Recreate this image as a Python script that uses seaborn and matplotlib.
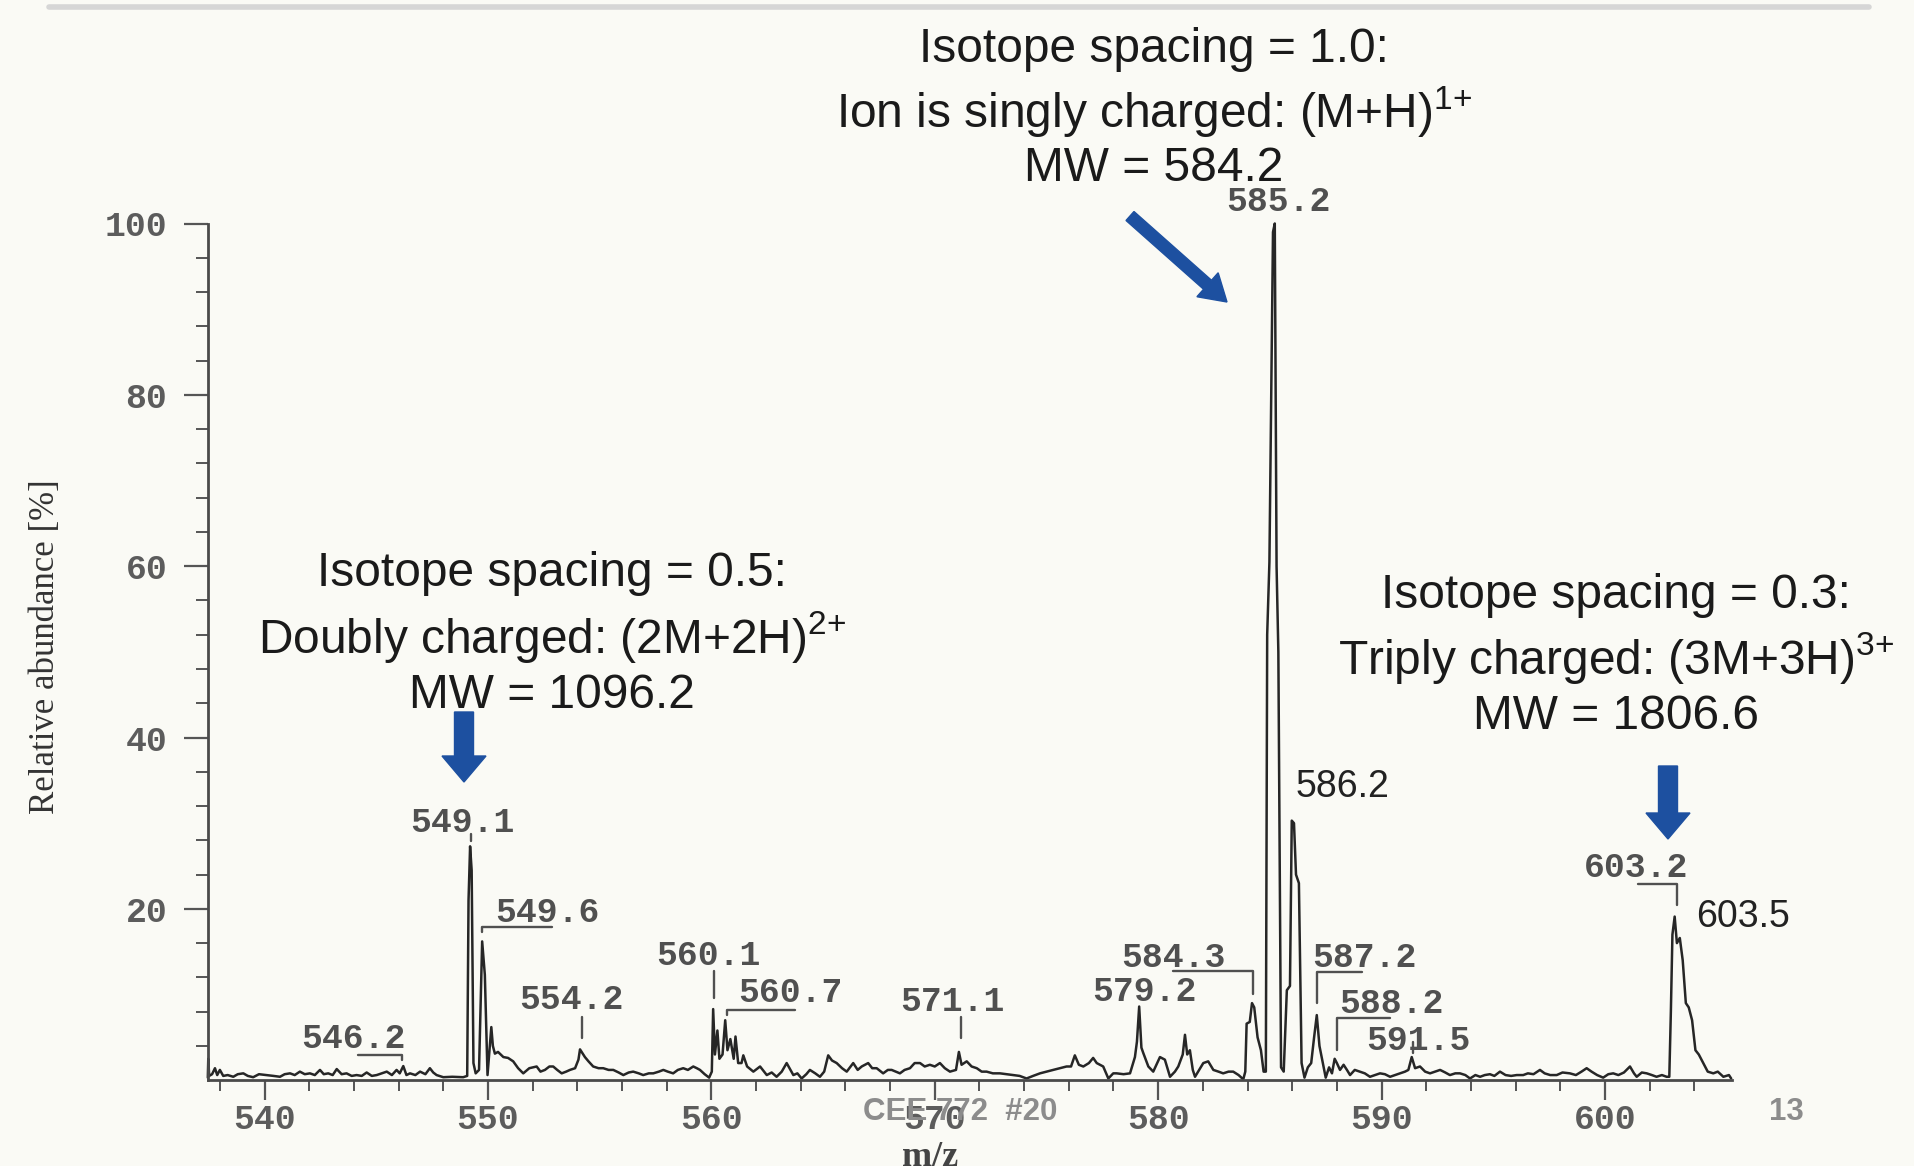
import matplotlib
matplotlib.use("Agg")
import matplotlib.pyplot as plt
import seaborn as sns
import pandas as pd
from matplotlib.patches import FancyArrow
from matplotlib.ticker import FixedLocator

# ------------------------------------------------------------------ data
mz = [537.46, 537.48, 537.52, 537.65, 537.78, 537.88, 538.00, 538.15, 538.35, 538.60,
      538.80, 539.05, 539.25, 539.49, 539.75, 540.09, 540.40, 540.69, 540.90, 541.14,
      541.35, 541.58, 541.80, 542.03, 542.25, 542.48, 542.65, 542.85, 543.05, 543.23,
      543.45, 543.67, 543.90, 544.12, 544.35, 544.57, 544.80, 545.02, 545.25, 545.47,
      545.70, 545.91, 546.05, 546.21, 546.35, 546.51, 546.75, 546.96, 547.20, 547.40,
      547.55, 547.70, 548.00, 548.40, 548.89, 549.07, 549.13, 549.20, 549.27, 549.35,
      549.45, 549.60, 549.74, 549.86, 549.98, 550.15, 550.22, 550.31, 550.45, 550.69,
      550.90, 551.13, 551.35, 551.58, 551.85, 552.18, 552.35, 552.55, 552.75, 552.92,
      553.10, 553.30, 553.50, 553.67, 553.90, 554.05, 554.12, 554.34, 554.50, 554.71,
      554.95, 555.16, 555.40, 555.61, 555.85, 556.06, 556.30, 556.50, 556.75, 556.95,
      557.20, 557.40, 557.65, 557.85, 558.05, 558.29, 558.50, 558.74, 558.95, 559.19,
      559.35, 559.49, 559.70, 559.90, 560.02, 560.08, 560.16, 560.27, 560.36, 560.50,
      560.62, 560.72, 560.85, 561.00, 561.08, 561.20, 561.35, 561.43, 561.60, 561.88,
      562.18, 562.48, 562.70, 562.92, 563.15, 563.37, 563.67, 563.85, 564.04, 564.25,
      564.41, 564.65, 564.86, 565.05, 565.23, 565.40, 565.61, 565.85, 566.06, 566.35,
      566.55, 566.73, 567.02, 567.20, 567.40, 567.69, 567.90, 568.07, 568.25, 568.44,
      568.65, 568.89, 569.10, 569.34, 569.55, 569.78, 570.00, 570.23, 570.45, 570.68,
      570.95, 571.08, 571.20, 571.43, 571.65, 571.88, 572.10, 572.32, 572.60, 572.92,
      573.20, 573.51, 573.80, 574.11, 574.40, 574.71, 575.00, 575.30, 575.60, 575.90,
      576.10, 576.27, 576.45, 576.65, 576.90, 577.09, 577.25, 577.54, 577.77, 577.99,
      578.14, 578.45, 578.74, 578.96, 579.05, 579.15, 579.25, 579.33, 579.56, 579.78,
      580.08, 580.30, 580.53, 580.75, 580.90, 581.10, 581.20, 581.30, 581.42, 581.55,
      581.65, 582.02, 582.24, 582.47, 582.70, 582.91, 583.15, 583.36, 583.60, 583.81,
      583.90, 583.96, 584.10, 584.20, 584.30, 584.45, 584.60, 584.72, 584.82, 584.88,
      584.98, 585.14, 585.22, 585.30, 585.38, 585.50, 585.62, 585.76, 585.90, 585.98,
      586.08, 586.17, 586.30, 586.42, 586.55, 586.70, 586.85, 586.98, 587.10, 587.22,
      587.35, 587.50, 587.65, 587.78, 587.90, 588.00, 588.14, 588.30, 588.45, 588.59,
      588.80, 589.03, 589.25, 589.48, 589.70, 589.93, 590.15, 590.38, 590.60, 590.82,
      591.05, 591.20, 591.35, 591.50, 591.72, 591.95, 592.17, 592.40, 592.62, 592.85,
      593.06, 593.30, 593.51, 593.75, 593.96, 594.20, 594.41, 594.62, 594.85, 595.05,
      595.30, 595.55, 595.80, 596.05, 596.34, 596.55, 596.80, 597.09, 597.30, 597.55,
      597.84, 598.10, 598.43, 598.70, 598.95, 599.18, 599.40, 599.65, 599.92, 600.15,
      600.37, 600.60, 600.85, 601.12, 601.30, 601.42, 601.65, 601.87, 602.10, 602.31,
      602.55, 602.76, 602.88, 602.95, 603.02, 603.12, 603.22, 603.35, 603.48, 603.62,
      603.75, 603.90, 604.05, 604.20, 604.40, 604.60, 604.85, 605.05, 605.30, 605.55,
      605.65]

abundance = [0.3, 2.5, 0.5, 0.7, 1.4, 0.6, 1.2, 0.5, 0.6, 0.4,
             0.7, 0.8, 0.5, 0.35, 0.7, 0.6, 0.5, 0.4, 0.7, 0.8,
             0.6, 1.0, 0.7, 0.8, 0.6, 1.2, 0.7, 0.8, 0.6, 1.3,
             0.7, 0.8, 0.5, 0.6, 0.5, 0.9, 0.5, 0.6, 0.8, 1.0,
             0.6, 1.2, 0.8, 1.65, 0.6, 0.8, 0.6, 1.0, 0.7, 1.4,
             0.9, 0.6, 0.35, 0.4, 0.35, 0.5, 21.0, 27.3, 24.5, 2.0,
             0.8, 1.2, 16.2, 12.3, 0.6, 6.2, 4.0, 3.1, 3.3, 2.7,
             2.6, 2.2, 1.4, 0.8, 1.4, 1.6, 1.0, 1.2, 1.6, 1.6,
             1.2, 0.8, 1.0, 1.2, 1.4, 2.4, 3.6, 2.7, 2.2, 1.6,
             1.4, 1.4, 1.2, 1.2, 0.9, 0.6, 0.9, 1.0, 0.8, 0.6,
             0.8, 0.8, 1.0, 1.2, 1.0, 0.8, 1.2, 1.4, 1.2, 1.6,
             1.4, 1.2, 0.7, 0.3, 1.0, 8.3, 3.0, 5.8, 2.5, 3.0,
             7.0, 3.5, 4.8, 2.5, 5.1, 2.0, 2.0, 2.9, 1.6, 1.0,
             1.6, 0.6, 0.9, 0.4, 1.0, 2.0, 0.6, 0.8, 0.2, 0.7,
             1.2, 0.8, 0.4, 1.0, 2.9, 2.3, 2.0, 1.4, 1.0, 2.0,
             1.2, 1.6, 2.0, 1.4, 1.4, 0.8, 1.2, 1.2, 1.0, 0.8,
             1.2, 1.4, 2.0, 2.0, 1.6, 1.8, 1.6, 2.0, 1.4, 1.0,
             1.2, 3.3, 1.8, 2.2, 1.6, 1.4, 1.0, 1.0, 0.8, 0.8,
             0.7, 0.6, 0.5, 0.2, 0.5, 0.8, 1.0, 1.2, 1.4, 1.6,
             1.6, 2.9, 1.8, 1.6, 2.0, 2.6, 2.0, 1.6, 0.2, 0.8,
             0.8, 0.7, 0.8, 2.7, 4.5, 8.6, 3.8, 3.2, 1.6, 1.0,
             2.7, 2.4, 0.4, 1.0, 1.6, 3.0, 5.3, 3.0, 3.5, 1.2,
             0.4, 2.0, 2.2, 1.2, 1.0, 0.8, 1.0, 1.0, 0.6, 0.1,
             1.0, 6.6, 6.8, 9.0, 8.5, 5.0, 3.5, 1.0, 1.0, 52.0,
             60.5, 99.0, 100.0, 60.0, 50.0, 1.5, 1.0, 10.5, 11.0, 30.3,
             30.0, 24.0, 23.0, 2.0, 0.3, 1.5, 2.0, 5.0, 7.6, 4.0,
             2.3, 0.3, 1.5, 0.8, 2.5, 2.0, 1.2, 1.8, 1.2, 0.6,
             1.2, 1.0, 0.8, 0.4, 0.6, 0.8, 0.7, 0.4, 0.6, 0.8,
             1.0, 1.2, 2.7, 1.4, 1.6, 1.0, 0.8, 1.0, 1.2, 0.9,
             0.6, 0.8, 0.8, 0.6, 0.2, 0.6, 0.4, 0.6, 0.7, 0.5,
             1.0, 0.6, 0.5, 0.6, 0.6, 0.8, 0.7, 1.2, 0.8, 0.6,
             0.6, 0.9, 0.8, 0.6, 1.0, 1.4, 1.0, 0.6, 0.3, 0.7,
             0.8, 0.6, 0.9, 1.6, 0.8, 0.4, 0.9, 0.8, 0.6, 0.4,
             0.6, 0.4, 0.4, 8.0, 17.0, 19.1, 16.0, 16.6, 14.0, 9.0,
             8.5, 7.0, 3.5, 3.0, 2.0, 1.0, 0.8, 1.0, 0.4, 0.6,
             0.2]

x_major_ticks = [540, 550, 560, 570, 580, 590, 600]
y_major_ticks = [20, 40, 60, 80, 100]

mono_labels = ["585.2", "549.1", "549.6", "546.2", "554.2", "560.1", "560.7",
               "571.1", "579.2", "584.3", "587.2", "588.2", "591.5", "603.2"]
sans_labels = ["586.2", "603.5"]

block_top = ["Isotope spacing = 1.0:",
             r"Ion is singly charged: (M+H)$^{1{+}}$",
             "MW = 584.2"]
block_left = ["Isotope spacing = 0.5:",
              r"Doubly charged: (2M+2H)$^{2{+}}$",
              "MW = 1096.2"]
block_right = ["Isotope spacing = 0.3:",
               r"Triply charged: (3M+3H)$^{3{+}}$",
               "MW = 1806.6"]

# ------------------------------------------------------------------ style
sns.set_style("ticks")
BG = "#fafaf5"
plt.rcParams["font.family"] = ["Liberation Sans", "DejaVu Sans"]
plt.rcParams["mathtext.fontset"] = "custom"
plt.rcParams["mathtext.rm"] = "Liberation Sans"
plt.rcParams["mathtext.it"] = "Liberation Sans"
plt.rcParams["mathtext.bf"] = "Liberation Sans:bold"

W, H = 1915, 1166
fig = plt.figure(figsize=(W / 100, H / 100), dpi=100, facecolor=BG)
x0, x1 = 207.6, 1732.3
y_top, y_bot = 223.5, 1080.2
ax = fig.add_axes([x0 / W, (H - y_bot) / H, (x1 - x0) / W, (y_bot - y_top) / H])
ax.set_facecolor(BG)

df = pd.DataFrame({"mz": mz, "abundance": abundance})
sns.lineplot(data=df, x="mz", y="abundance", ax=ax, color="#262626",
             linewidth=1.8, estimator=None, sort=False)
for ln in ax.lines:
    ln.set_clip_on(False)

ax.set_xlim(537.45, 605.7)
ax.set_ylim(0, 100)
ax.set_xlabel("")
ax.set_ylabel("")

ax.xaxis.set_major_locator(FixedLocator(x_major_ticks))
ax.xaxis.set_minor_locator(FixedLocator([v for v in range(538, 606, 2) if v % 10 != 0]))
ax.yaxis.set_major_locator(FixedLocator(y_major_ticks))
ax.yaxis.set_minor_locator(FixedLocator([v for v in range(4, 100, 4) if v % 20 != 0]))
ax.set_xticklabels([str(v) for v in x_major_ticks])
ax.set_yticklabels([str(v) for v in y_major_ticks])

TICKC = "#555555"
LABTC = "#5c5c5c"
ax.tick_params(axis="y", which="major", direction="out", length=17, width=1.6,
               pad=12, color=TICKC, labelcolor=LABTC, labelsize=25)
ax.tick_params(axis="y", which="minor", direction="out", length=8.5, width=1.4, color=TICKC)
ax.tick_params(axis="x", which="major", direction="out", length=14.5, width=1.6,
               pad=2, color=TICKC, labelcolor=LABTC, labelsize=25)
ax.tick_params(axis="x", which="minor", direction="out", length=8, width=1.4, color=TICKC)
for lab in ax.get_xticklabels() + ax.get_yticklabels():
    lab.set_fontfamily("Liberation Mono")
    lab.set_fontweight("bold")

for s in ["top", "right"]:
    ax.spines[s].set_visible(False)
for s in ["left", "bottom"]:
    ax.spines[s].set_color("#4a4a4a")
    ax.spines[s].set_linewidth(2.0)

# ------------------------------------------------------------------ peak labels
LABC = "#505050"
mono_pos = [(585.40, 102.6), (548.84, 30.1), (552.66, 19.6), (543.97, 4.9),
            (553.75, 9.4), (559.85, 14.6), (563.52, 10.2), (570.79, 9.2),
            (579.37, 10.3), (580.66, 14.3), (589.25, 14.3), (590.45, 9.0),
            (591.64, 4.6), (601.39, 24.8)]
for txt, (px, py) in zip(mono_labels, mono_pos):
    ax.text(px, py, txt, ha="center", va="center", fontsize=25,
            family="Liberation Mono", fontweight="bold", color=LABC, clip_on=False)

sans_pos = [(588.23, 34.2), (606.18, 19.05)]
for txt, (px, py) in zip(sans_labels, sans_pos):
    ax.text(px, py, txt, ha="center", va="center", fontsize=27,
            family="Liberation Sans", color="#222222", clip_on=False)

# leader lines of the peak labels
leaders = [
    [(549.22, 28.7), (549.22, 27.9)],
    [(549.74, 17.3), (549.74, 17.9), (552.85, 17.9)],
    [(544.19, 2.9), (546.14, 2.9), (546.14, 2.3)],
    [(554.19, 7.4), (554.19, 4.9)],
    [(560.14, 12.7), (560.14, 9.6)],
    [(560.69, 7.6), (560.69, 8.2), (563.74, 8.2)],
    [(571.16, 7.4), (571.16, 4.9)],
    [(580.68, 12.7), (584.26, 12.7), (584.26, 10.1)],
    [(587.09, 9.0), (587.09, 12.6), (589.11, 12.6)],
    [(587.99, 3.5), (587.99, 7.3), (590.37, 7.3)],
    [(591.42, 4.5), (591.42, 3.2)],
    [(601.48, 22.9), (603.21, 22.9), (603.21, 20.4)],
]
for seg in leaders:
    xs, ys = zip(*seg)
    ax.plot(xs, ys, color=LABC, lw=1.7, clip_on=False)

# ------------------------------------------------------------------ annotation blocks
def fx(x):
    return x / W


def fy(y):
    return 1 - y / H


ANN = dict(ha="center", va="baseline", fontsize=34.5, color="#1a1a1a",
           family="Liberation Sans")
for txt, yb in zip(block_top, [62, 128, 181]):
    fig.text(fx(1154), fy(yb), txt, **ANN)
for txt, yb in zip(block_left, [586, 653, 708]):
    fig.text(fx(552), fy(yb), txt, **ANN)
for txt, yb in zip(block_right, [608, 674, 729]):
    fig.text(fx(1616), fy(yb), txt, **ANN)

# blue arrows (inch coordinates)
BLUE = "#1d50a0"
tr = fig.dpi_scale_trans
arrows = [
    (11.30, (H - 216) / 100, 0.97, -0.86, 0.12, 0.32, 0.26),
    (4.64, (H - 712) / 100, 0.0, -0.70, 0.19, 0.44, 0.26),
    (16.68, (H - 766) / 100, 0.0, -0.73, 0.19, 0.44, 0.26),
]
for (ax0, ay0, dx, dy, w, hw, hl) in arrows:
    fig.patches.append(FancyArrow(ax0, ay0, dx, dy, width=w, head_width=hw,
                                  head_length=hl, length_includes_head=True,
                                  color=BLUE, transform=tr, figure=fig))

# axis titles
fig.text(fx(46), fy(647), "Relative abundance [%]", rotation=90, ha="center",
         va="center", fontsize=25, family="Liberation Serif", color="#333333")
fig.text(fx(930), 0.0, "m/z", ha="center", va="baseline", fontsize=26,
         family="Liberation Serif", fontweight="bold", color="#444444")

# slide footer
fig.text(fx(960), fy(1112), "CEE 772  #20", ha="center", va="center",
         fontsize=22.5, fontweight="bold", color="#8c8c8c", family="Liberation Sans")
fig.text(fx(1786), fy(1112), "13", ha="center", va="center",
         fontsize=22.5, fontweight="bold", color="#8c8c8c", family="Liberation Sans")

# top border shadow of the slide
fig.add_artist(plt.Line2D([fx(49), fx(1869)], [fy(7), fy(7)], color="#d6d6d6",
                          lw=4, transform=fig.transFigure))

fig.savefig("out.png", dpi=100, facecolor=BG)
